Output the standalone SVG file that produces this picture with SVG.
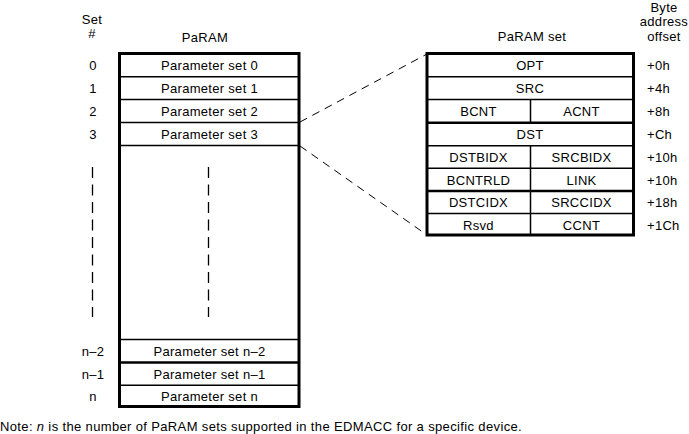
<svg xmlns="http://www.w3.org/2000/svg" width="689" height="434" viewBox="0 0 689 434">
<style>
text{font-family:"Liberation Sans",Arial,sans-serif;font-size:13px;fill:#000;letter-spacing:0.3px}
.c{text-anchor:middle}
.l{text-anchor:start}
.frame{fill:#fff;stroke:#000;stroke-width:3}
.row{stroke:#000;stroke-width:1.5;fill:none}
.rowb{stroke:#000;stroke-width:2.5;fill:none}
.vd{stroke:#000;stroke-width:1.3;stroke-dasharray:11 6.5;fill:none}
.conn{stroke:#000;stroke-width:1;stroke-dasharray:8 6;fill:none}
</style>
<rect width="689" height="434" fill="#fff"/>

<g id="headers">
<text class="c" x="92" y="23.5">Set</text>
<text class="c" x="92" y="38">#</text>
<text class="c" x="205" y="42">PaRAM</text>
<text class="c" x="532" y="41">PaRAM set</text>
<text class="c" x="664" y="11.5">Byte</text>
<text class="c" x="664" y="26">address</text>
<text class="c" x="664" y="40.5">offset</text>
</g>

<g id="set-numbers">
<text class="c" x="93" y="70">0</text>
<text class="c" x="93" y="93">1</text>
<text class="c" x="93" y="116">2</text>
<text class="c" x="93" y="139">3</text>
<line class="vd" x1="92.5" y1="167" x2="92.5" y2="317"/>
<text class="c" x="93" y="355.5">n–2</text>
<text class="c" x="93" y="378.5">n–1</text>
<text class="c" x="93" y="401">n</text>
</g>

<g id="param-table">
<rect class="frame" x="119.5" y="53.5" width="179.5" height="353"/>
<line class="row" x1="119.5" y1="76.7" x2="299" y2="76.7"/>
<line class="row" x1="119.5" y1="99.5" x2="299" y2="99.5"/>
<line class="row" x1="119.5" y1="122.5" x2="299" y2="122.5"/>
<line class="row" x1="119.5" y1="145.5" x2="299" y2="145.5"/>
<line class="row" x1="119.5" y1="339.5" x2="299" y2="339.5"/>
<line class="rowb" x1="119.5" y1="362.5" x2="299" y2="362.5"/>
<line class="row" x1="119.5" y1="385.2" x2="299" y2="385.2"/>
<text class="c" x="209.5" y="70">Parameter set 0</text>
<text class="c" x="209.5" y="93">Parameter set 1</text>
<text class="c" x="209.5" y="116">Parameter set 2</text>
<text class="c" x="209.5" y="139">Parameter set 3</text>
<line class="vd" x1="208.5" y1="167" x2="208.5" y2="317"/>
<text class="c" x="209.5" y="355.5">Parameter set n–2</text>
<text class="c" x="209.5" y="378.5">Parameter set n–1</text>
<text class="c" x="209.5" y="401">Parameter set n</text>
</g>

<g id="connectors">
<line class="conn" x1="300" y1="122" x2="427" y2="54"/>
<line class="conn" x1="300" y1="146" x2="427" y2="235"/>
</g>

<g id="paramset-table">
<rect class="frame" x="427" y="53.5" width="206.5" height="181.5"/>
<line class="row" x1="427" y1="76.7" x2="633.5" y2="76.7"/>
<line class="row" x1="427" y1="99.5" x2="633.5" y2="99.5"/>
<line class="rowb" x1="427" y1="122.7" x2="633.5" y2="122.7"/>
<line class="row" x1="427" y1="145.7" x2="633.5" y2="145.7"/>
<line class="row" x1="427" y1="168.3" x2="633.5" y2="168.3"/>
<line class="rowb" x1="427" y1="191" x2="633.5" y2="191"/>
<line class="row" x1="427" y1="213.5" x2="633.5" y2="213.5"/>
<line class="row" x1="530.5" y1="99.5" x2="530.5" y2="122.7"/>
<line class="row" x1="530.5" y1="145.7" x2="530.5" y2="235"/>
<text class="c" x="530" y="70">OPT</text>
<text class="c" x="530" y="93">SRC</text>
<text class="c" x="478.5" y="116">BCNT</text>
<text class="c" x="581.5" y="116">ACNT</text>
<text class="c" x="530" y="139">DST</text>
<text class="c" x="478.5" y="162">DSTBIDX</text>
<text class="c" x="581.5" y="162">SRCBIDX</text>
<text class="c" x="478.5" y="184.5">BCNTRLD</text>
<text class="c" x="581.5" y="184.5">LINK</text>
<text class="c" x="478.5" y="207">DSTCIDX</text>
<text class="c" x="581.5" y="207">SRCCIDX</text>
<text class="c" x="478.5" y="229.5">Rsvd</text>
<text class="c" x="581.5" y="229.5">CCNT</text>
</g>

<g id="offsets">
<text class="l" x="647" y="70">+0h</text>
<text class="l" x="647" y="93">+4h</text>
<text class="l" x="647" y="116">+8h</text>
<text class="l" x="647" y="139">+Ch</text>
<text class="l" x="647" y="162">+10h</text>
<text class="l" x="647" y="184.5">+10h</text>
<text class="l" x="647" y="207">+18h</text>
<text class="l" x="647" y="229.5">+1Ch</text>
</g>

<g id="note">
<text class="l" x="0" y="430.5" textLength="522" lengthAdjust="spacing">Note: <tspan font-style="italic">n</tspan> is the number of PaRAM sets supported in the EDMACC for a specific device.</text>
</g>
</svg>
